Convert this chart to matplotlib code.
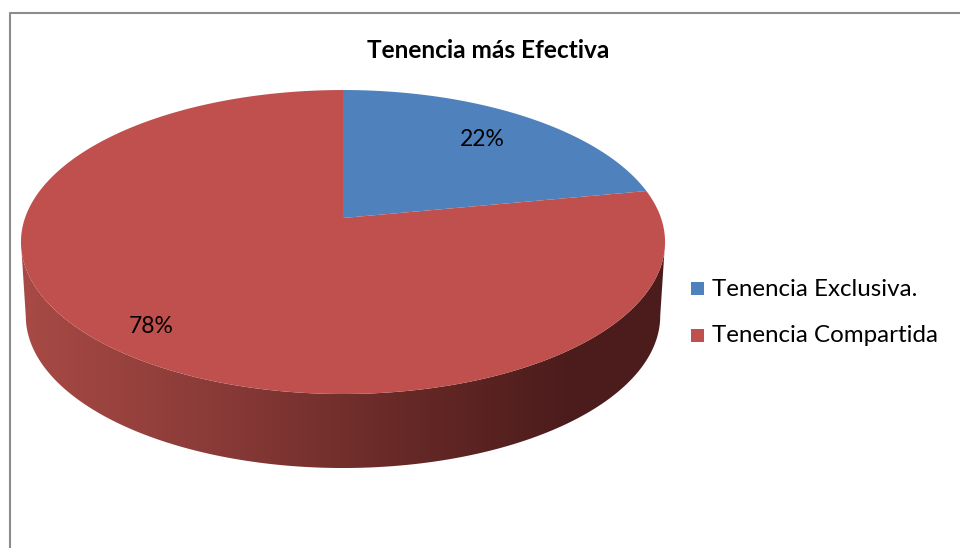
import numpy as np
import matplotlib
matplotlib.use("Agg")
from matplotlib import pyplot as plt
from matplotlib.patches import Polygon, Rectangle
from matplotlib.colors import LinearSegmentedColormap

title = "Tenencia más Efectiva"
labels = ["Tenencia Exclusiva.", "Tenencia Compartida"]
values = [22, 78]
colors = ["#4F81BD", "#C0504D"]

plt.rcParams['font.family'] = ['Lato', 'DejaVu Sans']

fig = plt.figure(figsize=(9.6, 5.48), dpi=100)
ax = fig.add_axes([0, 0, 1, 1])
ax.set_xlim(0, 960)
ax.set_ylim(548, 0)
ax.axis("off")

# chart frame
ax.plot([9.5, 9.5, 960], [548, 12.5, 12.5], color="#8c8c8c", lw=1.5)

# perspective projection of the pie disc (pixels)
X0, Y0 = 343, 218      # projected pie centre
A, B, k = 318, 148.2, 0.158
depth, bscale = 74, 0.985

def proj(u, v, dy=0.0, s=1.0):
    d = 1 + k * v
    return X0 + s * A * u / d, Y0 + dy - B * v / d

# side band with gradient
t0 = np.arcsin(k)
a_side = np.linspace(np.pi + t0, 2 * np.pi - t0, 200)
tx, ty = proj(np.cos(a_side), np.sin(a_side))
bx, by = proj(np.cos(a_side[::-1]), np.sin(a_side[::-1]), depth, bscale)
side = Polygon(np.column_stack([np.r_[tx, bx], np.r_[ty, by]]), closed=True,
               facecolor="none", edgecolor="none")
ax.add_patch(side)
cmap = LinearSegmentedColormap.from_list("side", [
    (0.0, (0.66, 0.29, 0.27)), (0.3, (0.54, 0.23, 0.22)),
    (0.6, (0.40, 0.16, 0.15)), (0.85, (0.30, 0.11, 0.11)),
    (1.0, (0.30, 0.11, 0.11))])
grad = np.linspace(0, 1, 256).reshape(1, -1)
im = ax.imshow(grad, cmap=cmap, extent=[tx.min(), tx.max(), 480, 200],
               aspect="auto", zorder=1)
im.set_clip_path(side)

# top face slices, clockwise from 12 o'clock
start = np.pi / 2
total = float(sum(values))
mids = []
for v, c in zip(values, colors):
    sweep = 2 * np.pi * v / total
    a = np.linspace(start, start - sweep, 300)
    px, py = proj(np.cos(a), np.sin(a))
    poly = Polygon(np.column_stack([np.r_[X0, px], np.r_[Y0, py]]), closed=True,
                   facecolor=c, edgecolor="none", zorder=2)
    ax.add_patch(poly)
    mids.append(start - sweep / 2)
    start -= sweep

# percentage labels
lab_r = [0.75, 0.85]
for v, m, r in zip(values, mids, lab_r):
    lx, ly = proj(r * np.cos(m), r * np.sin(m))
    ax.text(lx, ly, f"{v}%", ha="center", va="center", fontsize=16.5,
            color="black", zorder=3)

ax.text(488, 51, title, ha="center", va="center", fontsize=17.6,
        fontweight="bold", color="black")

# legend
for i, (lab, c) in enumerate(zip(labels, colors)):
    y = 289 + i * 47
    ax.add_patch(Rectangle((691, y - 7), 13, 13, facecolor=c, edgecolor="none"))
    ax.text(712, y, lab, ha="left", va="center", fontsize=17.4, color="black")

fig.savefig("out.png", dpi=100)
